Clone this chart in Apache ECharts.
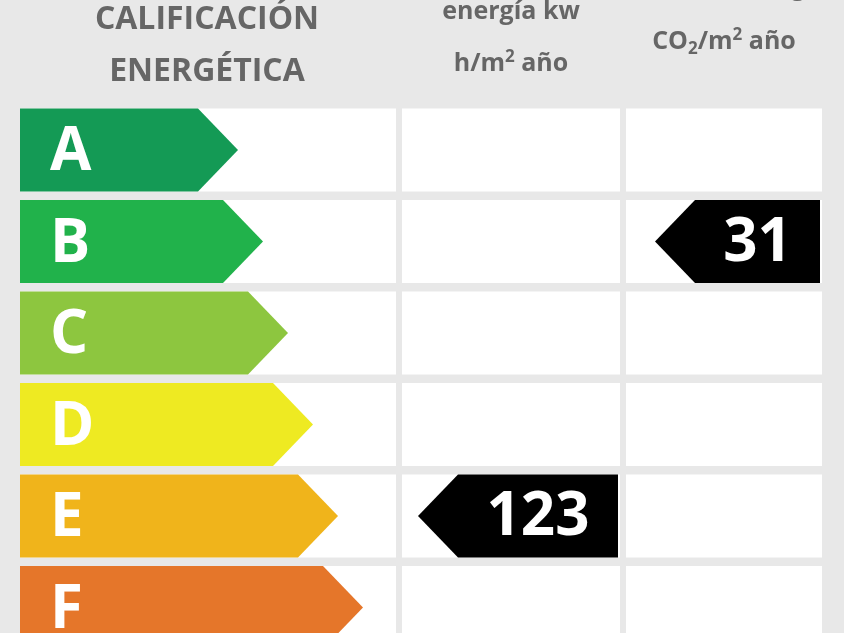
<!DOCTYPE html><html><head><meta charset="utf-8">
<script src="https://cdn.jsdelivr.net/npm/echarts@6/dist/echarts.min.js"></script>
<style>html,body{margin:0;background:#e8e8e8}#c{width:844px;height:633px}</style></head><body><div id="c"></div>
<script>
const ratings=['A','B','C','D','E','F'];
const arrowTips=[238,263,288,313,338,363];
const colors=['#149a55','#21b24b','#8dc63f','#eeea22','#f0b41b','#e5762a'];
const energyValue={row:4,label:'123'};
const co2Value={row:1,label:'31'};
const F='"Open Sans", sans-serif';
const cols=[[20,396],[402,620],[626,822]];
const H=83/91.5;
const chart=echarts.init(document.getElementById('c'));
const cells=[];ratings.forEach((r,i)=>{for(let c=0;c<3;c++)cells.push([c,i]);});
function box(api,x0,x1,row){const a=api.coord([x0,row-H/2]),b=api.coord([x1,row+H/2]);return {x:a[0],y:a[1],w:b[0]-a[0],h:b[1]-a[1]};}
chart.setOption({
 backgroundColor:'#e8e8e8',animation:false,
 grid:{left:0,right:0,top:0,bottom:0},
 xAxis:{type:'value',min:0,max:844,show:false},
 yAxis:{type:'value',inverse:true,min:-150/91.5,max:(633-150)/91.5,show:false},
 graphic:[
  {type:'text',left:'center',x:0,style:{text:'CALIFICACIÓN',x:207,y:20,align:'center',verticalAlign:'middle',font:'bold 32px '+F,fill:'#666'}},
  {type:'text',style:{text:'CALIFICACIÓN',x:207,y:20,align:'center',verticalAlign:'middle',font:'bold 32px '+F,fill:'#666'}},
  {type:'text',style:{text:'ENERGÉTICA',x:207,y:72,align:'center',verticalAlign:'middle',font:'bold 32px '+F,fill:'#666'}},
  {type:'text',style:{text:'energía kw',x:511,y:12,align:'center',verticalAlign:'middle',font:'bold 25px '+F,fill:'#666'}},
  {type:'text',style:{text:'{n|h/m}{s|2}{n| año}',x:511,y:64,align:'center',verticalAlign:'middle',rich:{n:{font:'bold 25px '+F,fill:'#666'},s:{font:'bold 17px '+F,fill:'#666',verticalAlign:'top',padding:[0,0,14,0]}}}},
  {type:'text',style:{text:'emisiones kg',x:724,y:-12,align:'center',verticalAlign:'middle',font:'bold 25px '+F,fill:'#666'}},
  {type:'text',style:{text:'{n|CO}{b|2}{n|/m}{s|2}{n| año}',x:724,y:42,align:'center',verticalAlign:'middle',rich:{n:{font:'bold 25px '+F,fill:'#666'},b:{font:'bold 17px '+F,fill:'#666',padding:[14,0,0,0]},s:{font:'bold 17px '+F,fill:'#666',padding:[0,0,14,0]}}}}
 ].slice(1),
 series:[
  {type:'custom',data:cells,renderItem:(p,api)=>{const c=api.value(0),r=api.value(1);const b=box(api,cols[c][0],cols[c][1],r);return {type:'rect',shape:{x:b.x,y:b.y,width:b.w,height:b.h},style:{fill:'#fff'}};}},
  {type:'custom',data:ratings.map((r,i)=>[arrowTips[i],i]),renderItem:(p,api)=>{const tip=api.value(0),r=api.value(1);const b=box(api,20,tip,r);const i=p.dataIndex;const d=40;
    return {type:'group',children:[
     {type:'polygon',shape:{points:[[b.x,b.y],[b.x+b.w-d,b.y],[b.x+b.w,b.y+b.h/2],[b.x+b.w-d,b.y+b.h],[b.x,b.y+b.h]]},style:{fill:colors[i]}},
     {type:'text',style:{text:ratings[i],x:b.x+30,y:b.y+b.h/2+3,verticalAlign:'middle',font:'bold 60px '+F,fill:'#fff'}}]};}},
  {type:'custom',data:[[418,618,energyValue.row],[655,820,co2Value.row]],renderItem:(p,api)=>{const b=box(api,api.value(0),api.value(1),api.value(2));const d=40;const lbl=[energyValue.label,co2Value.label][p.dataIndex];
    return {type:'group',children:[
     {type:'polygon',shape:{points:[[b.x,b.y+b.h/2],[b.x+d,b.y],[b.x+b.w,b.y],[b.x+b.w,b.y+b.h],[b.x+d,b.y+b.h]]},style:{fill:'#000'}},
     {type:'text',style:{text:lbl,x:b.x+d+(b.w-d)/2,y:b.y+b.h/2+2,align:'center',verticalAlign:'middle',font:'bold 60px '+F,fill:'#fff'}}]};}}
 ]
});
</script></body></html>
